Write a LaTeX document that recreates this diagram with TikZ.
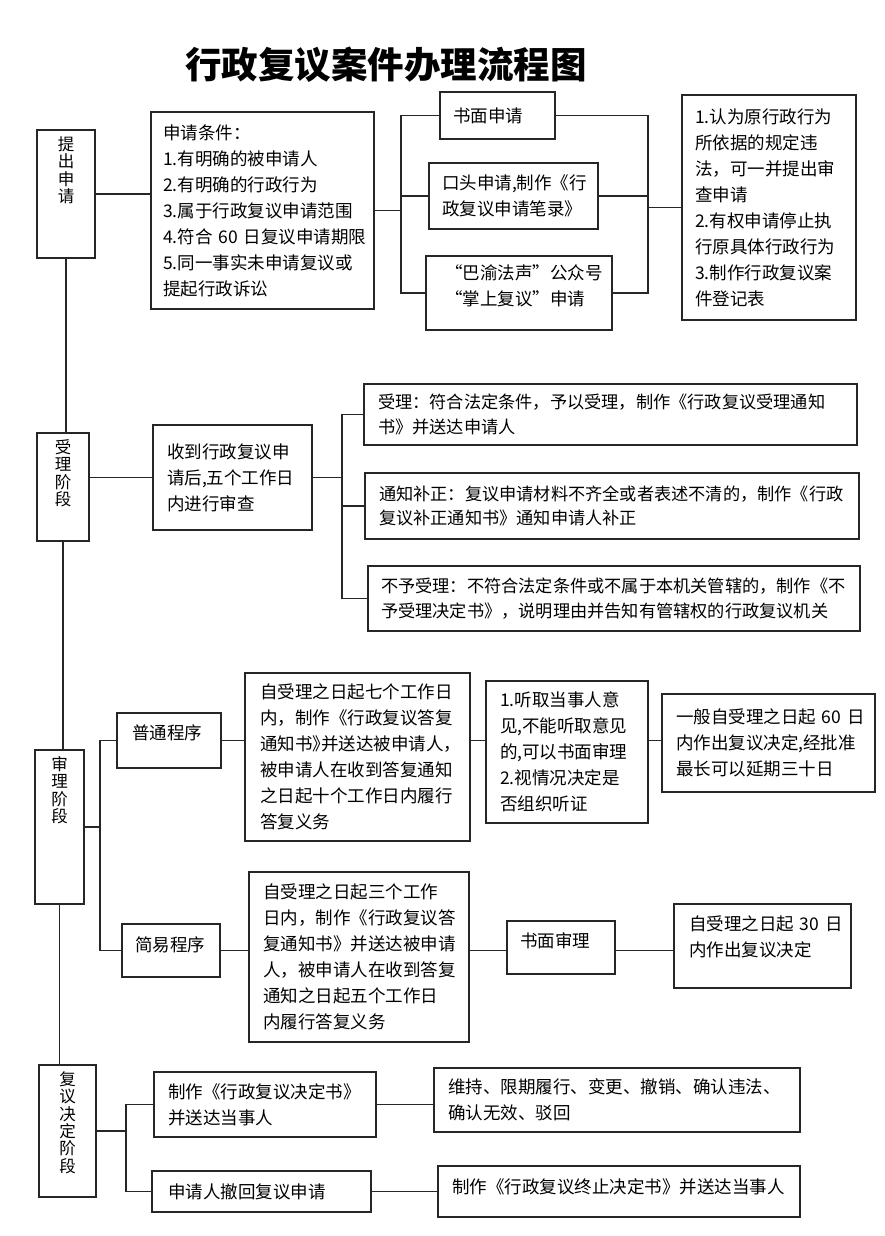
\documentclass[tikz,border=0pt]{standalone}
\usepackage{fontspec}
\newfontfamily\cjk{Noto Sans CJK SC}
\usetikzlibrary{calc}

\newcommand{\bodyfont}{\cjk\fontsize{17.5pt}{26pt}\selectfont}
\newcommand{\widefont}{\cjk\fontsize{17.2pt}{24.5pt}\selectfont}
\newcommand{\stagefont}{\cjk\fontsize{16.5pt}{17.4pt}\selectfont}
\newcommand{\padbot}[1]{\rule[-#1]{0pt}{#1}}
\newcommand{\hw}[1]{{\addfontfeature{RawFeature=+halt}#1}}

\tikzset{
  box/.style={draw=black!85, line width=1.5pt, align=left, inner sep=0pt, font=\bodyfont},
  stagebox/.style={draw=black!85, line width=1.5pt, inner sep=0pt},
  stagetxt/.style={font=\stagefont, align=center, inner sep=0pt, anchor=north, yshift=-7pt},
  link/.style={draw=black!85, line width=1.5pt},
}

\begin{document}
\begin{tikzpicture}[x=1pt,y=-1pt]
\path[use as bounding box] (0,0) rectangle (885,1236);

% title
\node[font=\cjk\bfseries\fontsize{36.5pt}{40pt}\selectfont] (title) at (386,65) {行政复议案件办理流程图};

% junction columns
\coordinate (jl) at (401,0);
\coordinate (jr) at (648,0);
\coordinate (jm) at (342,0);
\coordinate (jp) at (100,0);
\coordinate (jd) at (126,0);

% stage 1: apply
\node[stagebox, minimum width=58, minimum height=128, label={[stagetxt]north:{提\\出\\申\\请}}] (s1) at (66,194) {};
\node[box, minimum width=223, minimum height=197, text width=199] (cond) at (262.5,210.5) {申请条件：\\1.有明确的被申请人\\2.有明确的行政行为\\3.属于行政复议申请范围\\4.符合~60~日复议申请期限\\5.同一事实未申请复议或\\提起行政诉讼};
\node[box, minimum width=115, minimum height=47, text width=89] (write) at (497.5,115.5) {书面申请};
\node[box, minimum width=169, minimum height=66, text width=143] (oral) at (513.5,196) {口头申请,制作《行\\政复议申请笔录》};
\node[box, minimum width=186, minimum height=74, text width=148] (online) at (519,293) {“巴渝法声”公众号\\“掌上复议”申请\padbot{16pt}};
\node[box, minimum width=174, minimum height=225, text width=148] (rights) at (769,207.5) {1.认为原行政行为\\所依据的规定违\\法，可一并提出审\\查申请\\2.有权申请停止执\\行原具体行政行为\\3.制作行政复议案\\件登记表};

\draw[link] (s1.east) -- (s1.east -| cond.west);
\draw[link] (cond.east) -- (cond.east -| jl);
\draw[link] (write.west) -| (jl |- online.west) -- (online.west);
\draw[link] (oral.west) -- (oral.west -| jl);
\draw[link] (write.east) -| (jr |- online.east) -- (online.east);
\draw[link] (oral.east) -- (oral.east -| jr);
\draw[link] (rights.west) -- (rights.west -| jr);

% stage 2: accept
\node[stagebox, minimum width=52, minimum height=108, label={[stagetxt]north:{受\\理\\阶\\段}}] (s2) at (63,487) {};
\node[box, minimum width=159, minimum height=105, text width=131] (recv) at (232.5,477.5) {收到行政复议申\\请后,五个工作日\\内进行审查};
\node[box, font=\widefont, minimum width=493, minimum height=61, text width=465] (accept) at (610.5,414.5) {受理：符合法定条件，予以受理，制作《行政复议受理通知\\书》并送达申请人};
\node[box, font=\widefont, minimum width=494, minimum height=66, text width=466] (amend) at (612,506) {通知补正：复议申请材料不齐全或者表述不清的，制作《行政\\复议补正通知书》通知申请人补正};
\node[box, font=\widefont, minimum width=492, minimum height=65, text width=466] (reject) at (614,598.5) {不予受理：不符合法定条件或不属于本机关管辖的，制作《不\\予受理决定书》，说明理由并告知有管辖权的行政复议机关};

\draw[link] (s1.south) -- (s1.south |- s2.north);
\draw[link] (recv.west -| s2.east) -- (recv.west);
\draw[link] (recv.east) -- (recv.east -| jm);
\draw[link] (accept.west) -| (jm |- reject.west) -- (reject.west);
\draw[link] (amend.west) -- (amend.west -| jm);

% stage 3: review
\node[stagebox, minimum width=49, minimum height=154, label={[stagetxt]north:{审\\理\\阶\\段}}] (s3) at (59.5,827) {};
\node[box, minimum width=104, minimum height=55, text width=74] (normal) at (169,740.5) {普通程序\padbot{16pt}};
\node[box, minimum width=98, minimum height=53, text width=72] (simple) at (171,950.5) {简易程序\padbot{12pt}};
\node[box, minimum width=225, minimum height=168, text width=195] (nreply) at (357.5,757) {自受理之日起七个工作日\\内，制作《行政复议答复\\通知书\hw{》}并送达被申请人\hw{，}\\被申请人在收到答复通知\\之日起十个工作日内履行\\答复义务};
\node[box, minimum width=162, minimum height=142, text width=134] (hear) at (567,752) {1.听取当事人意\\见,不能听取意见\\的,可以书面审理\\2.视情况决定是\\否组织听证};
\node[box, minimum width=213, minimum height=98, text width=185] (nterm) at (768.5,743) {一般自受理之日起~60~日\\内作出复议决定,经批准\\最长可以延期三十日};
\node[box, minimum width=220, minimum height=170, text width=192] (sreply) at (359,957) {自受理之日起三个工作\\日内，制作《行政复议答\\复通知书》并送达被申请\\人，被申请人在收到答复\\通知之日起五个工作日\\内履行答复义务};
\node[box, minimum width=108, minimum height=53, text width=82] (paper) at (561,947.5) {书面审理\padbot{14pt}};
\node[box, minimum width=177, minimum height=84, text width=147] (sterm) at (762.5,946) {自受理之日起~30~日\\内作出复议决定\padbot{20pt}};

\draw[link] (s2.south) -- (s2.south |- s3.north);
\draw[link] (s3.east) -- (s3.east -| jp);
\draw[link] (normal.west) -| (jp |- simple.west) -- (simple.west);
\draw[link] (normal.east) -- (normal.east -| nreply.west);
\draw[link] (normal.east -| nreply.east) -- (normal.east -| hear.west);
\draw[link] (normal.east -| hear.east) -- (normal.east -| nterm.west);
\draw[link] (simple.east) -- (simple.east -| sreply.west);
\draw[link] (simple.east -| sreply.east) -- (simple.east -| paper.west);
\draw[link] (simple.east -| paper.east) -- (simple.east -| sterm.west);

% stage 4: decision
\node[stagebox, minimum width=57, minimum height=132, label={[stagetxt]north:{复\\议\\决\\定\\阶\\段}}] (s4) at (67.5,1131) {};
\node[box, minimum width=222, minimum height=65, text width=194] (decide) at (265,1104.5) {制作《行政复议决定书》\\并送达当事人};
\node[box, minimum width=219, minimum height=41, text width=187] (withdraw) at (261.5,1191.5) {申请人撤回复议申请};
\node[box, minimum width=366, minimum height=64, text width=338] (result) at (617,1100) {维持、限期履行、变更、撤销、确认违法、\\确认无效、驳回};
\node[box, minimum width=362, minimum height=51, text width=334] (stop) at (619,1191.5) {制作《行政复议终止决定书》并送达当事人\padbot{10pt}};

\draw[link] (s3.south) -- (s3.south |- s4.north);
\draw[link] (s4.east) -- (s4.east -| jd);
\draw[link] (decide.west) -| (jd |- withdraw.west) -- (withdraw.west);
\draw[link] (decide.east) -- (decide.east -| result.west);
\draw[link] (withdraw.east) -- (withdraw.east -| stop.west);
\end{tikzpicture}
\end{document}
